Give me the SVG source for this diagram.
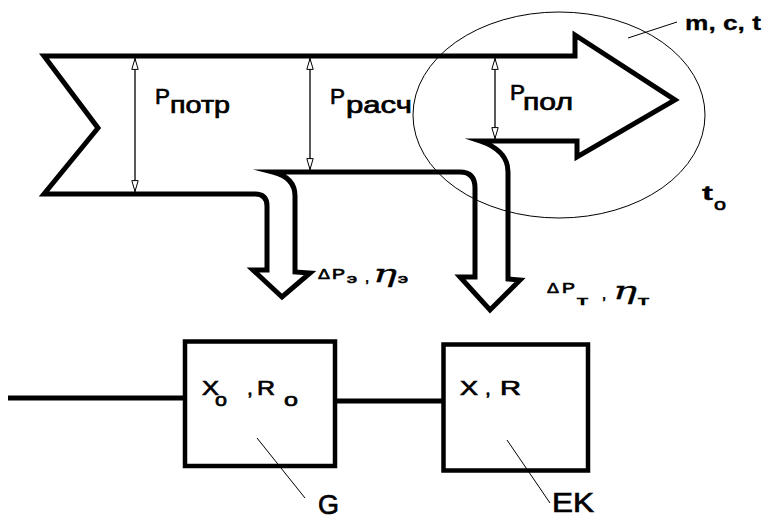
<svg xmlns="http://www.w3.org/2000/svg" width="762" height="517" viewBox="0 0 762 517">
<style>
.thick{fill:none;stroke:#000;stroke-width:5;stroke-linejoin:miter;stroke-miterlimit:10}
.box{fill:#fff;stroke:#000;stroke-width:4.5}
.dim{stroke:#000;stroke-width:1.3;fill:none}
.thin{stroke:#000;stroke-width:1;fill:none}
text{font-family:"Liberation Sans",Arial,sans-serif;fill:#000;stroke:#000;stroke-width:0.7}
.eta{font-family:"DejaVu Serif",serif;font-style:italic;stroke-width:0.3}
</style>
<defs>
<marker id="oa" viewBox="0 0 12 8" refX="12" refY="4" markerWidth="12" markerHeight="8" markerUnits="userSpaceOnUse" orient="auto-start-reverse">
<path d="M0.6,0.8 L11.4,4 L0.6,7.2 Z" fill="#fff" stroke="#000" stroke-width="1"/>
</marker>
</defs>
<rect width="762" height="517" fill="#fff"/>
<g id="flow">
<path class="thick" d="M44,56 L575,56 L575,35 L675,100 L577,157 L577,141 L480,141 C495,146 508,155 508,172 L508,279 L520,280 L490,310 L460,277 L475,277 L475,188 Q475,172 460,172 L273,172 C285,175 295,182 295,196 L295,272 L310,273 L282,297 L253,270 L267,270 L267,206 Q267,194 255,194 L44,194 L98,128 Z"/>
</g>
<g id="ellipse">
<ellipse class="thin" cx="559" cy="115" rx="146" ry="103"/>
<line class="thin" x1="628" y1="38" x2="677" y2="22"/>
<text x="685" y="30" font-size="21" font-weight="bold" textLength="76" lengthAdjust="spacingAndGlyphs" style="stroke-width:0.3">m, c, t</text>
<text x="702" y="200" font-size="21" font-weight="bold" textLength="11" lengthAdjust="spacingAndGlyphs" style="stroke-width:0.3">t</text>
<text x="714" y="210" font-size="17" textLength="12" lengthAdjust="spacingAndGlyphs">o</text>
</g>
<g id="dimensions">
<line class="dim" x1="135" y1="58" x2="135" y2="192" marker-start="url(#oa)" marker-end="url(#oa)"/>
<line class="dim" x1="310" y1="58" x2="310" y2="170" marker-start="url(#oa)" marker-end="url(#oa)"/>
<line class="dim" x1="495" y1="58" x2="495" y2="139" marker-start="url(#oa)" marker-end="url(#oa)"/>
<text x="155" y="104" font-size="22" textLength="15" lengthAdjust="spacingAndGlyphs">P</text>
<text x="170" y="113" font-size="23" textLength="60" lengthAdjust="spacingAndGlyphs">потр</text>
<text x="330" y="104" font-size="22" textLength="15" lengthAdjust="spacingAndGlyphs">P</text>
<text x="346" y="113" font-size="23" textLength="66" lengthAdjust="spacingAndGlyphs">расч</text>
<text x="510" y="100" font-size="22" textLength="15" lengthAdjust="spacingAndGlyphs">P</text>
<text x="523" y="110" font-size="23" textLength="50" lengthAdjust="spacingAndGlyphs">пол</text>
</g>
<g id="losses">
<text x="318" y="279" font-size="15" textLength="12" lengthAdjust="spacingAndGlyphs">Δ</text>
<text x="332" y="279" font-size="15" textLength="13" lengthAdjust="spacingAndGlyphs">P</text>
<text x="347" y="283" font-size="13" textLength="10" lengthAdjust="spacingAndGlyphs">э</text>
<text x="365" y="282" font-size="15">,</text>
<text x="373" y="282" font-size="24" class="eta" textLength="24" lengthAdjust="spacingAndGlyphs">η</text>
<text x="398" y="283" font-size="13" textLength="10" lengthAdjust="spacingAndGlyphs">э</text>
<text x="547" y="293" font-size="15" textLength="12" lengthAdjust="spacingAndGlyphs">Δ</text>
<text x="562" y="293" font-size="15" textLength="13" lengthAdjust="spacingAndGlyphs">P</text>
<text x="577" y="305" font-size="13" textLength="11" lengthAdjust="spacingAndGlyphs">т</text>
<text x="602" y="299" font-size="15">,</text>
<text x="613" y="299" font-size="24" class="eta" textLength="24" lengthAdjust="spacingAndGlyphs">η</text>
<text x="638" y="305" font-size="13" textLength="11" lengthAdjust="spacingAndGlyphs">т</text>
</g>
<g id="connectors">
<line x1="8" y1="398" x2="185" y2="398" stroke="#000" stroke-width="5"/>
<line x1="335" y1="401" x2="443" y2="401" stroke="#000" stroke-width="5"/>
</g>
<g id="nodeG">
<rect class="box" x="185" y="341.5" width="150" height="124.5"/>
<text x="202" y="395" font-size="21" textLength="17" lengthAdjust="spacingAndGlyphs">X</text>
<text x="215" y="406" font-size="19" textLength="12" lengthAdjust="spacingAndGlyphs">o</text>
<text x="247" y="395" font-size="21">,</text>
<text x="257" y="395" font-size="21" textLength="18" lengthAdjust="spacingAndGlyphs">R</text>
<text x="284" y="406" font-size="19" textLength="14" lengthAdjust="spacingAndGlyphs">o</text>
<line class="thin" x1="257" y1="438" x2="305" y2="498"/>
<text x="318" y="514" font-size="27" textLength="21" lengthAdjust="spacingAndGlyphs">G</text>
</g>
<g id="nodeEK">
<rect class="box" x="443.5" y="344.5" width="144.5" height="126"/>
<text x="460" y="395" font-size="21" textLength="18" lengthAdjust="spacingAndGlyphs">X</text>
<text x="485" y="395" font-size="21">,</text>
<text x="500" y="395" font-size="21" textLength="21" lengthAdjust="spacingAndGlyphs">R</text>
<line class="thin" x1="507" y1="440" x2="550" y2="503"/>
<text x="552" y="512" font-size="27" textLength="42" lengthAdjust="spacingAndGlyphs">EK</text>
</g>
</svg>
